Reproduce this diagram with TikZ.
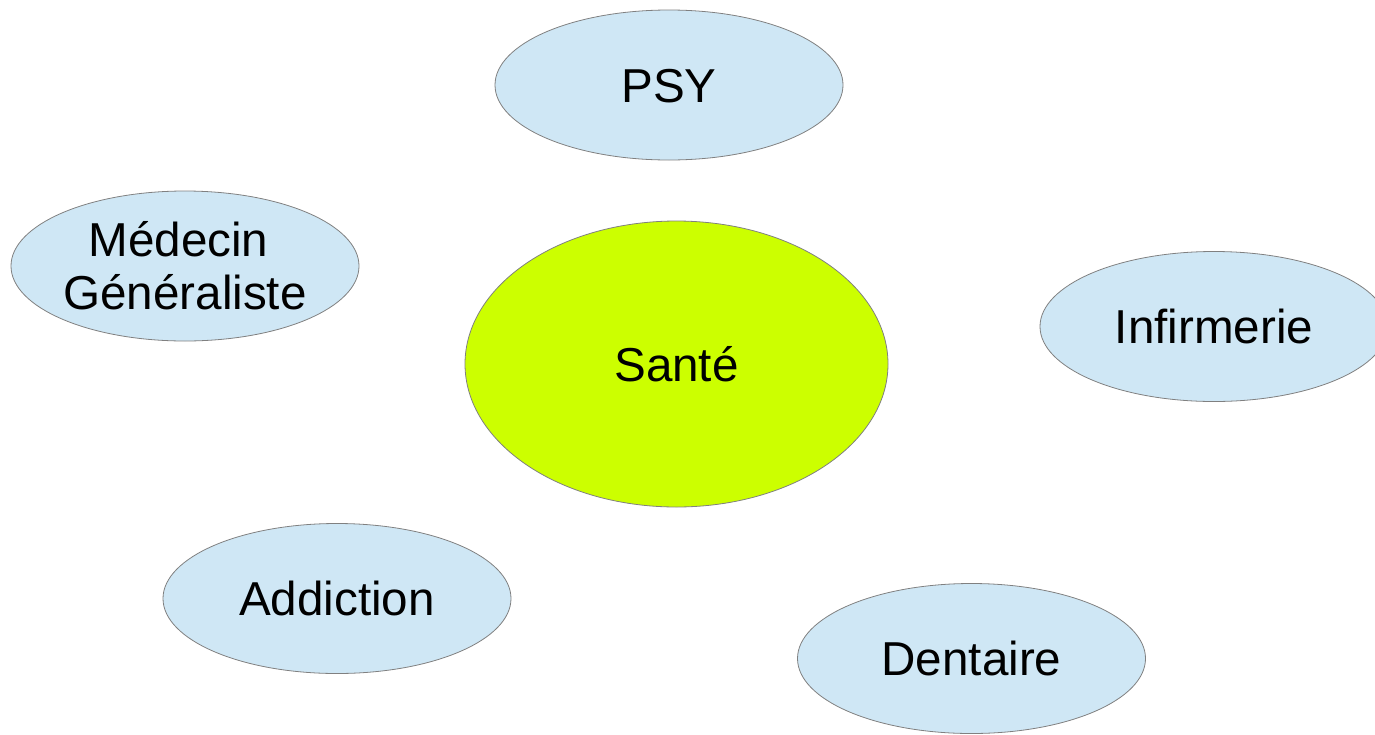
\documentclass[tikz,border=0pt]{standalone}
\usepackage{fontspec}
\setmainfont{Liberation Sans}
\usetikzlibrary{shapes.geometric}
\definecolor{paleblue}{HTML}{CFE7F5}
\definecolor{limegreen}{HTML}{CCFF00}
\definecolor{outline}{HTML}{808080}
\begin{document}
\begin{tikzpicture}[x=1pt,y=-1pt,
  bubble/.style={ellipse, draw=outline, line width=0.8pt, fill=paleblue,
    minimum width=348pt, minimum height=150pt, inner sep=0pt,
    font=\fontsize{47.6}{53}\selectfont, align=center},
  single/.style={text height=34pt, text depth=0pt},
  hub/.style={bubble, fill=limegreen, minimum width=423pt, minimum height=286pt}]
\useasboundingbox (0,0) rectangle (1375,734);
\begin{scope}
\clip (0,0) rectangle (1375,734);
\node[bubble,single] (psy) at (669,85) {PSY};
\node[bubble] (med) at (185,266) {Médecin\kern0.278em\\Généraliste};
\node[hub,single] (sante) at (676.5,364) {Santé};
\node[bubble,single] (inf) at (1214,326.5) {Infirmerie};
\node[bubble,single] (add) at (337,598.5) {Addiction};
\node[bubble,single] (dent) at (971.5,658.5) {Dentaire};
\end{scope}
\end{tikzpicture}
\end{document}
